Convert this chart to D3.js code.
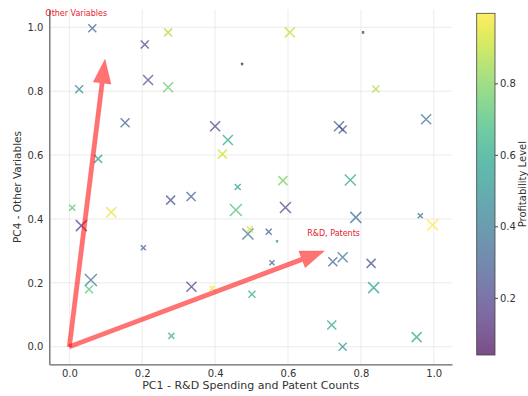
<!DOCTYPE html>
<html>
<head>
<meta charset="utf-8">
<script src="https://cdn.jsdelivr.net/npm/d3@7"></script>
<style>
  body { margin: 0; background: #fff; }
  text { font-family: "DejaVu Sans", sans-serif; }
</style>
</head>
<body>
<svg id="chart" width="528" height="396"></svg>
<script>
// data
var pc1 = [0.063, 0.027, 0.207, 0.216, 0.271, 0.271, 0.153, 0.079, 0.40, 0.435,
           0.42, 0.474, 0.605, 0.806, 0.841, 0.74, 0.75, 0.979, 0.008, 0.033,
           0.115, 0.278, 0.334, 0.203, 0.462, 0.457, 0.49, 0.495, 0.547, 0.57,
           0.586, 0.593, 0.556, 0.786, 0.771, 0.963, 0.997, 0.723, 0.75, 0.828,
           0.835, 0.501, 0.72, 0.75, 0.953, 0.059, 0.054, 0.335, 0.392, 0.28];
var pc4 = [0.997, 0.806, 0.946, 0.835, 0.984, 0.812, 0.701, 0.588, 0.69, 0.647,
           0.603, 0.885, 0.984, 0.984, 0.807, 0.69, 0.68, 0.712, 0.435, 0.379,
           0.421, 0.459, 0.47, 0.31, 0.50, 0.428, 0.353, 0.368, 0.36, 0.33,
           0.52, 0.436, 0.263, 0.405, 0.522, 0.41, 0.381, 0.266, 0.28, 0.261,
           0.185, 0.164, 0.068, 0.0, 0.03, 0.209, 0.18, 0.188, 0.183, 0.034];
var profit = [0.33, 0.45, 0.22, 0.25, 0.88, 0.75, 0.32, 0.55, 0.2, 0.6,
              0.92, 0.04, 0.9, 0.15, 0.88, 0.3, 0.27, 0.38, 0.72, 0.2,
              0.95, 0.25, 0.3, 0.3, 0.55, 0.7, 0.38, 0.92, 0.28, 0.5,
              0.78, 0.2, 0.3, 0.35, 0.58, 0.35, 0.996, 0.3, 0.4, 0.25,
              0.55, 0.62, 0.6, 0.52, 0.6, 0.38, 0.72, 0.2, 0.97, 0.65];
var markerSize = [4, 4, 4, 5, 4, 5, 4.5, 4, 5, 5,
                  4.5, 1, 5, 1, 3.5, 5, 4, 5, 3, 5.5,
                  5, 4.5, 4.5, 2.5, 3, 6, 5.5, 3, 3, 1,
                  4.5, 5.5, 2.5, 5.5, 5.5, 2.5, 5.5, 4.5, 5, 4.5,
                  5.5, 3.5, 4.5, 4, 5, 6, 4, 5, 2.5, 3];

var loadingNames = ["R&D, Patents", "Other Variables"];
var loadingX = [0.70, 0.098];
var loadingY = [0.30, 0.90];
var labelX = [0.725, 0.019];
var labelY = [0.355, 1.045];

var xTicks = [0.0, 0.2, 0.4, 0.6, 0.8, 1.0];
var yTicks = [0.0, 0.2, 0.4, 0.6, 0.8, 1.0];
var cTicks = [0.2, 0.4, 0.6, 0.8];

var points = pc1.map(function(d, i) {
  return {x: d, y: pc4[i], p: profit[i], s: markerSize[i]};
});

var svg = d3.select("#chart");
var plot = {left: 49.3, right: 452, top: 9.7, bottom: 364.3};

var x = d3.scaleLinear().domain([-0.055, 1.05]).range([plot.left, plot.right]);
var y = d3.scaleLinear().domain([-0.055, 1.055]).range([plot.bottom, plot.top]);
var color = d3.scaleSequential(d3.interpolateViridis).domain(d3.extent(profit));

// grid
svg.append("g").selectAll("line.vg").data(xTicks).enter().append("line")
  .attr("x1", function(d){ return x(d); }).attr("x2", function(d){ return x(d); })
  .attr("y1", plot.top).attr("y2", plot.bottom)
  .attr("stroke", "#e6e6e6").attr("stroke-width", 0.8);
svg.append("g").selectAll("line.hg").data(yTicks).enter().append("line")
  .attr("y1", function(d){ return y(d); }).attr("y2", function(d){ return y(d); })
  .attr("x1", plot.left).attr("x2", plot.right)
  .attr("stroke", "#e6e6e6").attr("stroke-width", 0.8);

// axes
var xAxis = svg.append("g")
  .attr("transform", "translate(0," + plot.bottom + ")")
  .call(d3.axisBottom(x).tickValues(xTicks).tickFormat(d3.format(".1f")).tickSize(0).tickPadding(6));
var yAxis = svg.append("g")
  .attr("transform", "translate(" + plot.left + ",0)")
  .call(d3.axisLeft(y).tickValues(yTicks).tickFormat(d3.format(".1f")).tickSize(0).tickPadding(6));
[xAxis, yAxis].forEach(function(a) {
  a.select(".domain").attr("stroke", "#666").attr("stroke-width", 1.3);
  a.selectAll("text").attr("font-size", 10).attr("fill", "#333").attr("font-family", "DejaVu Sans");
});

svg.append("text")
  .attr("x", (plot.left + plot.right) / 2).attr("y", 389)
  .attr("text-anchor", "middle").attr("font-size", 11).attr("fill", "#333")
  .text("PC1 - R&D Spending and Patent Counts");
svg.append("text")
  .attr("transform", "translate(21," + ((plot.top + plot.bottom) / 2) + ") rotate(-90)")
  .attr("text-anchor", "middle").attr("font-size", 10.5).attr("fill", "#333")
  .text("PC4 - Other Variables");

// markers
svg.append("g").selectAll("path.pt").data(points).enter().append("path")
  .attr("d", function(d) {
    var cx = x(d.x), cy = y(d.y), s = d.s;
    return "M" + (cx - s) + "," + (cy - s) + "L" + (cx + s) + "," + (cy + s) +
           "M" + (cx - s) + "," + (cy + s) + "L" + (cx + s) + "," + (cy - s);
  })
  .attr("stroke", function(d){ return color(d.p); })
  .attr("stroke-width", function(d){ return d.s < 2 ? 1.6 : 1.5; })
  .attr("stroke-opacity", 0.7)
  .attr("fill", "none");

// loading arrows
function arrowPath(x0, y0, x1, y1) {
  var dx = x1 - x0, dy = y1 - y0, len = Math.sqrt(dx * dx + dy * dy);
  var ux = dx / len, uy = dy / len, nx = -uy, ny = ux;
  var w = 2.2, hw = 9, hl = 24;
  var bx = x1 - ux * hl, by = y1 - uy * hl;
  var p = [
    [x0 + nx * w, y0 + ny * w], [bx + nx * w, by + ny * w], [bx + nx * hw, by + ny * hw],
    [x1, y1], [bx - nx * hw, by - ny * hw], [bx - nx * w, by - ny * w], [x0 - nx * w, y0 - ny * w]
  ];
  return "M" + p.map(function(q){ return q.join(","); }).join("L") + "Z";
}
svg.append("g").selectAll("path.arrow").data(loadingNames).enter().append("path")
  .attr("d", function(d, i) { return arrowPath(x(0), y(0), x(loadingX[i]), y(loadingY[i])); })
  .attr("fill", "#ff0000").attr("fill-opacity", 0.55)
  .attr("stroke", "#ff0000").attr("stroke-opacity", 0.3).attr("stroke-width", 0.6);
svg.append("g").selectAll("text.lab").data(loadingNames).enter().append("text")
  .attr("x", function(d, i){ return x(labelX[i]); })
  .attr("y", function(d, i){ return y(labelY[i]); })
  .attr("dy", "0.35em").attr("text-anchor", "middle")
  .attr("font-size", 8).attr("fill", "#e8202a")
  .text(function(d){ return d; });

// colorbar
var cb = {x: 476.7, w: 18.3, top: 13.3, bottom: 355};
var cScale = d3.scaleLinear().domain(color.domain()).range([cb.bottom, cb.top]);
var defs = svg.append("defs");
var grad = defs.append("linearGradient").attr("id", "cgrad")
  .attr("x1", 0).attr("y1", 1).attr("x2", 0).attr("y2", 0);
d3.range(0, 1.0001, 0.05).forEach(function(t) {
  grad.append("stop").attr("offset", t).attr("stop-color", d3.interpolateViridis(t));
});
svg.append("rect").attr("x", cb.x).attr("y", cb.top).attr("width", cb.w)
  .attr("height", cb.bottom - cb.top).attr("fill", "url(#cgrad)").attr("fill-opacity", 0.7);
svg.append("rect").attr("x", cb.x).attr("y", cb.top).attr("width", cb.w)
  .attr("height", cb.bottom - cb.top).attr("fill", "none").attr("stroke", "#444").attr("stroke-width", 0.8);
var cAxis = svg.append("g")
  .attr("transform", "translate(" + (cb.x + cb.w) + ",0)")
  .call(d3.axisRight(cScale).tickValues(cTicks).tickFormat(d3.format(".1f")).tickSize(3).tickPadding(2));
cAxis.select(".domain").remove();
cAxis.selectAll("line").attr("stroke", "#444");
cAxis.selectAll("text").attr("font-size", 10).attr("fill", "#333").attr("font-family", "DejaVu Sans");
svg.append("text")
  .attr("transform", "translate(526," + ((cb.top + cb.bottom) / 2) + ") rotate(-90)")
  .attr("text-anchor", "middle").attr("font-size", 10).attr("fill", "#333")
  .text("Profitability Level");
</script>
</body>
</html>
